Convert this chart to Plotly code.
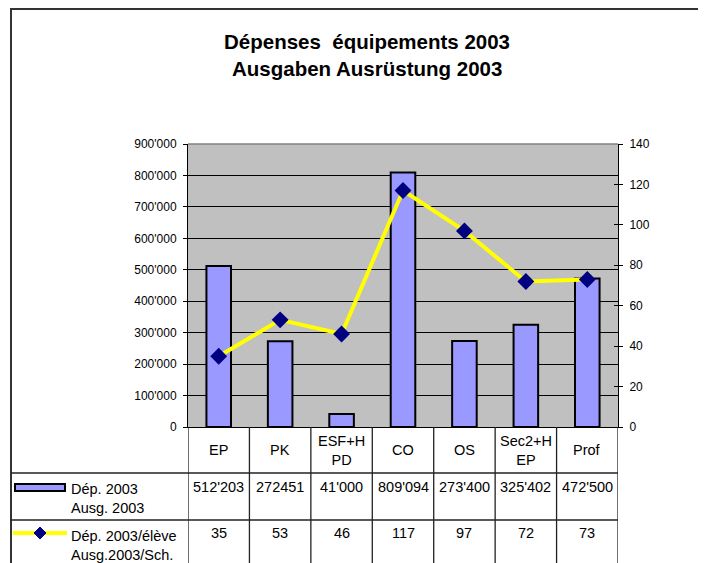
import plotly.graph_objects as go

categories = ["EP", "PK", "ESF+H<br>PD", "CO", "OS", "Sec2+H<br>EP", "Prof"]
depenses_2003 = [512203, 272451, 41000, 809094, 273400, 325402, 472500]
depenses_labels = ["512'203", "272451", "41'000", "809'094", "273'400", "325'402", "472'500"]
par_eleve = [35, 53, 46, 117, 97, 72, 73]
bar_series_name = "Dép. 2003<br>Ausg. 2003"
line_series_name = "Dép. 2003/élève<br>Ausg.2003/Sch."
title_lines = ["Dépenses\u00a0 équipements 2003", "Ausgaben Ausrüstung 2003"]

FONT = "Liberation Sans, Arial, sans-serif"
OFF = 8  # page body margin
W, H = 706 - OFF, 563 - OFF
L, R, T, B = 188, 618, 144, 427  # plot area in screenshot pixels
TABLE_FS = 14.5


def px(xp):
    return (xp - L) / (R - L)


def py(yp):
    return (B - yp) / (B - T)


xpos = list(range(len(categories)))

fig = go.Figure()
fig.add_trace(go.Bar(
    x=xpos, y=depenses_2003, width=0.4,
    marker=dict(color="#9999FF", line=dict(color="black", width=2)),
    showlegend=False, hoverinfo="skip",
))
fig.add_trace(go.Scatter(
    x=xpos, y=par_eleve, yaxis="y2", mode="lines+markers",
    line=dict(color="#FFFF00", width=4),
    marker=dict(symbol="diamond", size=13, color="#000080"),
    showlegend=False, hoverinfo="skip",
))
# dummy trace to draw inside ticks of right axis
fig.add_trace(go.Scatter(x=[None], y=[None], yaxis="y3", showlegend=False, hoverinfo="skip"))

shapes = []
# outer frame
shapes.append(dict(type="rect", xref="paper", yref="paper",
                   x0=px(11), x1=px(760), y0=py(620), y1=py(9),
                   line=dict(color="#333333", width=2)))
# top gray border of plot area
shapes.append(dict(type="line", xref="paper", yref="paper", x0=0, x1=1, y0=1, y1=1,
                   line=dict(color="#808080", width=1.5), layer="above"))
# table horizontal lines
for yy in (473, 520):
    shapes.append(dict(type="line", xref="paper", yref="paper",
                       x0=px(11), x1=1, y0=py(yy), y1=py(yy),
                       line=dict(color="#222222", width=1.3)))
# table vertical lines at category boundaries
for i in range(len(categories) + 1):
    shapes.append(dict(type="line", xref="x", yref="paper",
                       x0=i - 0.5, x1=i - 0.5, y0=0, y1=py(600),
                       line=dict(color="#222222", width=1.3)))
# legend swatch: bar
shapes.append(dict(type="rect", xref="paper", yref="paper",
                   x0=px(15), x1=px(65), y0=py(491), y1=py(484),
                   fillcolor="#9999FF", line=dict(color="black", width=2)))
# legend swatch: line + diamond
shapes.append(dict(type="line", xref="paper", yref="paper",
                   x0=px(13), x1=px(67), y0=py(533), y1=py(533),
                   line=dict(color="#FFFF00", width=4)))
cx, cy, hs = 40, 533, 6
shapes.append(dict(type="path", xref="paper", yref="paper",
                   path=f"M {px(cx-hs)} {py(cy)} L {px(cx)} {py(cy-hs)} L {px(cx+hs)} {py(cy)} L {px(cx)} {py(cy+hs)} Z",
                   fillcolor="#000080", line=dict(color="#000080", width=1)))

annotations = []
for txt, yy in zip(title_lines, (41, 68)):
    annotations.append(dict(text=f"<b>{txt}</b>", xref="paper", yref="paper",
                            x=px(366.5), y=py(yy), xanchor="center", yanchor="middle",
                            showarrow=False, font=dict(family=FONT, size=20.5, color="black")))
for i, c in enumerate(categories):
    annotations.append(dict(text=c, xref="x", yref="paper", x=i, y=py(450),
                            xanchor="center", yanchor="middle", showarrow=False,
                            font=dict(family=FONT, size=TABLE_FS, color="black")))
    annotations.append(dict(text=depenses_labels[i], xref="x", yref="paper", x=i, y=py(487),
                            xanchor="center", yanchor="middle", showarrow=False,
                            font=dict(family=FONT, size=TABLE_FS, color="black")))
    annotations.append(dict(text=str(par_eleve[i]), xref="x", yref="paper", x=i, y=py(533),
                            xanchor="center", yanchor="middle", showarrow=False,
                            font=dict(family=FONT, size=TABLE_FS, color="black")))
annotations.append(dict(text=bar_series_name, xref="paper", yref="paper", x=px(69), y=py(498.5),
                        xanchor="left", yanchor="middle", align="left", showarrow=False,
                        font=dict(family=FONT, size=TABLE_FS, color="black")))
annotations.append(dict(text=line_series_name, xref="paper", yref="paper", x=px(69), y=py(545),
                        xanchor="left", yanchor="middle", align="left", showarrow=False,
                        font=dict(family=FONT, size=TABLE_FS, color="black")))

fig.update_layout(
    width=W, height=H,
    margin=dict(l=L - OFF, r=W - (R - OFF), t=T - OFF, b=H - (B - OFF), pad=0),
    paper_bgcolor="white", plot_bgcolor="#C0C0C0",
    separators=".'",
    font=dict(family=FONT, size=12, color="black"),
    xaxis=dict(range=[-0.5, len(categories) - 0.5], showticklabels=False, ticks="",
               showgrid=False, zeroline=False, showline=True, linecolor="black", linewidth=1,
               fixedrange=True),
    yaxis=dict(range=[0, 900000], dtick=100000, tickformat=",d", showgrid=True,
               gridcolor="black", gridwidth=1, zeroline=False, showline=True,
               linecolor="black", linewidth=1, ticks="outside", ticklen=4, tickcolor="black",
               ticklabelstandoff=4, tickfont=dict(size=12), fixedrange=True),
    yaxis2=dict(range=[0, 140], dtick=20, overlaying="y", side="right", showgrid=False,
                zeroline=False, showline=True, linecolor="black", linewidth=1,
                ticks="outside", ticklen=4, tickcolor="black", tickfont=dict(size=12),
                ticklabelstandoff=4, fixedrange=True),
    yaxis3=dict(range=[0, 140], dtick=20, overlaying="y", side="right", showgrid=False,
                zeroline=False, showline=False, ticks="inside", ticklen=4, tickcolor="black",
                showticklabels=False, fixedrange=True),
    shapes=shapes, annotations=annotations,
)

fig.write_html("out.html")
